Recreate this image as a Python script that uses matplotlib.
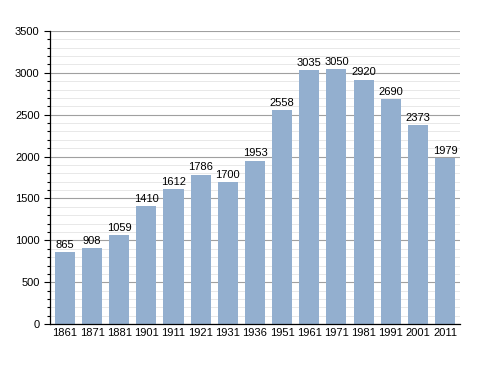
import numpy as np
import matplotlib.pyplot as plt
from matplotlib.ticker import MultipleLocator

years = ["1861", "1871", "1881", "1901", "1911", "1921", "1931", "1936",
         "1951", "1961", "1971", "1981", "1991", "2001", "2011"]
population = [865, 908, 1059, 1410, 1612, 1786, 1700, 1953,
              2558, 3035, 3050, 2920, 2690, 2373, 1979]

plt.rcParams['font.family'] = ['Liberation Sans', 'DejaVu Sans']

fig = plt.figure(figsize=(4.88, 3.73), dpi=100)
ax = fig.add_axes([0.1025, 0.131, 0.84, 0.786])

x = np.arange(len(years))
ax.bar(x, population, width=0.74, color="#93afcf", zorder=2)
for xi, v in zip(x, population):
    ax.text(xi, v + 25, str(v), ha="center", va="bottom", fontsize=8, zorder=3)

ax.set_xlim(-0.55, len(years) - 0.45)
ax.set_ylim(0, 3500)
ax.set_xticks(x)
ax.set_xticklabels(years, fontsize=8)
ax.yaxis.set_major_locator(MultipleLocator(500))
ax.yaxis.set_minor_locator(MultipleLocator(100))
ax.tick_params(axis="y", labelsize=8, direction="out", length=4, width=0.8)
ax.tick_params(axis="y", which="minor", direction="out", length=2, width=0.8)
ax.tick_params(axis="x", length=0, pad=3)

ax.grid(axis="y", which="major", color="#a0a0a0", linewidth=0.8, zorder=0)
ax.grid(axis="y", which="minor", color="#e4e4e4", linewidth=0.6, zorder=0)
ax.set_axisbelow(True)

for s in ["top", "right"]:
    ax.spines[s].set_visible(False)
ax.spines["left"].set_linewidth(0.9)
ax.spines["bottom"].set_linewidth(0.9)

fig.savefig("out.png", dpi=100)
